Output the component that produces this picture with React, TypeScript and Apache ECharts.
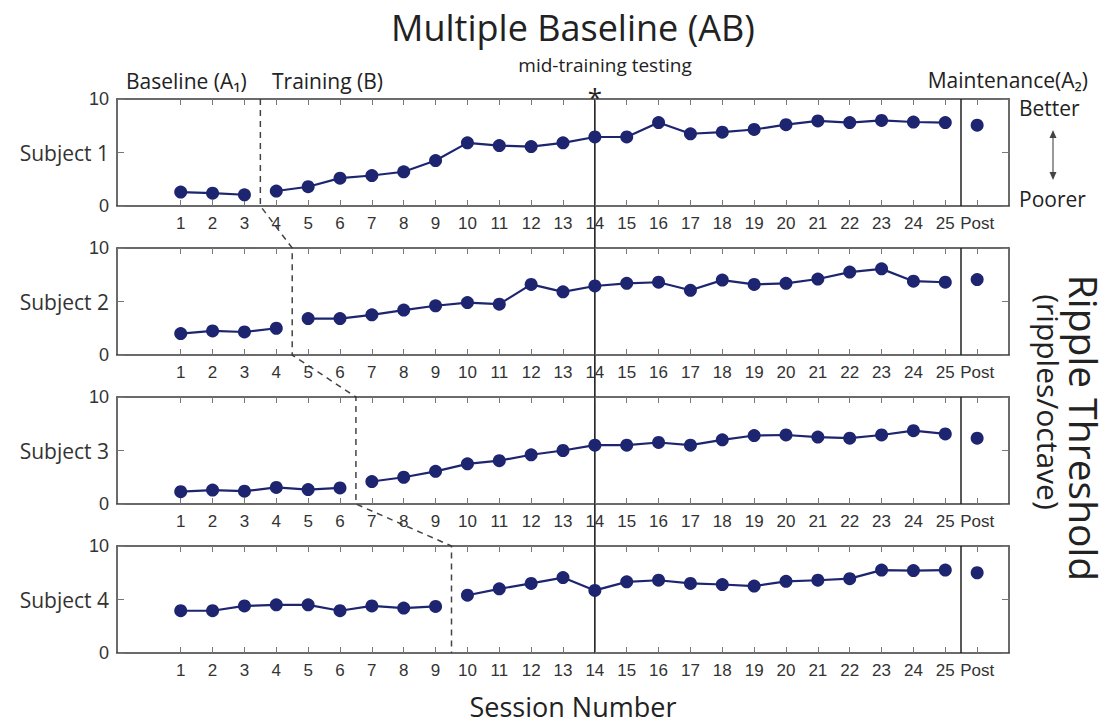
import React, { useEffect, useRef } from "react";
import * as echarts from "echarts";

// ---- data ----
const sessionTicks = [1, 2, 3, 4, 5, 6, 7, 8, 9, 10, 11, 12, 13, 14, 15, 16, 17, 18, 19, 20, 21, 22, 23, 24, 25, 26];
const postPosition = 26;
const subjectNames = ["Subject 1", "Subject 2", "Subject 3", "Subject 4"];
const subject1 = [1.3, 1.2, 1.05, 1.4, 1.8, 2.6, 2.85, 3.2, 4.25, 5.9, 5.65, 5.55, 5.9, 6.45, 6.45, 7.8, 6.75, 6.9, 7.15, 7.6, 7.95, 7.8, 8.0, 7.85, 7.8];
const subject2 = [2.0, 2.25, 2.15, 2.5, 3.4, 3.4, 3.75, 4.2, 4.6, 4.9, 4.75, 6.6, 5.9, 6.45, 6.7, 6.8, 6.05, 7.0, 6.6, 6.7, 7.1, 7.75, 8.05, 6.9, 6.8];
const subject3 = [1.15, 1.3, 1.2, 1.55, 1.35, 1.5, 2.1, 2.5, 3.05, 3.75, 4.05, 4.6, 5.0, 5.5, 5.5, 5.75, 5.5, 6.0, 6.4, 6.45, 6.25, 6.15, 6.45, 6.85, 6.55];
const subject4 = [3.95, 3.95, 4.4, 4.5, 4.5, 3.95, 4.4, 4.2, 4.35, 5.4, 6.0, 6.5, 7.05, 5.85, 6.65, 6.8, 6.5, 6.4, 6.25, 6.7, 6.8, 6.95, 7.75, 7.7, 7.75];
const postValues = [7.55, 7.05, 6.15, 7.5];
const baselineEnd = [3, 4, 6, 9];
const midTrainingSession = 14;
const yTicks = [0, 5, 10];

const subjects = [subject1, subject2, subject3, subject4];

const NAVY = "#1d2570";
const AXIS = "#3a3a3a";
const SANS = "'Open Sans', 'Noto Sans', sans-serif";
const HELV = "'Liberation Sans', Arial, sans-serif";

const gridTops = [99, 248, 397, 546];
const gridH = 107;

export default function App() {
  const ref = useRef<HTMLDivElement>(null);
  useEffect(() => {
    document.body.style.margin = "0";
    const chart = echarts.init(ref.current!, null, { renderer: "svg" });

    const grids: any[] = [];
    const xAxes: any[] = [];
    const yAxes: any[] = [];
    const series: any[] = [];

    subjects.forEach((vals, i) => {
      grids.push({ left: 117, right: 100, top: gridTops[i], height: gridH });
      const xBase = {
        type: "value",
        gridIndex: i,
        min: -1,
        max: 27,
        splitLine: { show: false },
        axisLine: { show: true, onZero: false, lineStyle: { color: AXIS, width: 1.5 } },
        axisTick: { show: true, inside: true, length: 6, customValues: sessionTicks, lineStyle: { color: "#777", width: 1 } },
      };
      xAxes.push({
        ...xBase,
        position: "bottom",
        axisLabel: {
          show: true,
          customValues: sessionTicks,
          formatter: (v: number) => (v === postPosition ? "Post" : String(v)),
          fontFamily: HELV,
          fontSize: 17,
          color: "#333",
          margin: 9,
        },
      });
      xAxes.push({ ...xBase, position: "top", axisLabel: { show: false } });
      const yBase = {
        type: "value",
        gridIndex: i,
        min: 0,
        max: 10,
        interval: 5,
        splitLine: { show: false },
        axisLine: { show: true, onZero: false, lineStyle: { color: AXIS, width: 1.5 } },
        axisTick: { show: true, inside: true, length: 7, lineStyle: { color: "#777", width: 1 } },
      };
      yAxes.push({
        ...yBase,
        position: "left",
        axisLabel: {
          show: true,
          customValues: yTicks,
          formatter: (v: number) => (v === 5 ? `{s|${subjectNames[i]}}` : String(v)),
          fontFamily: HELV,
          fontSize: 18,
          color: "#333",
          margin: 8,
          rich: { s: { fontFamily: SANS, fontSize: 21, color: "#333" } },
        },
      });
      yAxes.push({ ...yBase, position: "right", axisLabel: { show: false } });

      const b = baselineEnd[i];
      const common = {
        type: "line",
        xAxisIndex: 2 * i,
        yAxisIndex: 2 * i,
        symbol: "circle",
        symbolSize: 13,
        itemStyle: { color: NAVY, opacity: 1 },
        lineStyle: { color: NAVY, width: 2.2 },
        silent: true,
      };
      series.push({
        ...common,
        data: vals.slice(0, b).map((v, k) => [k + 1, v]),
        markLine: {
          silent: true,
          symbol: "none",
          label: { show: false },
          lineStyle: { color: "#222", width: 1.5, type: "solid" },
          data: [{ xAxis: 25.5 }],
        },
      });
      series.push({ ...common, data: vals.slice(b).map((v, k) => [b + k + 1, v]) });
      series.push({
        type: "scatter",
        xAxisIndex: 2 * i,
        yAxisIndex: 2 * i,
        symbolSize: 13,
        itemStyle: { color: NAVY, opacity: 1 },
        data: [[postPosition, postValues[i]]],
        silent: true,
      });
    });

    chart.setOption({
      animation: false,
      grid: grids,
      xAxis: xAxes,
      yAxis: yAxes,
      series,
    });

    const px = (g: number, x: number, y: number) =>
      chart.convertToPixel({ xAxisIndex: 2 * g, yAxisIndex: 2 * g }, [x, y]) as number[];

    const phasePts: number[][] = [];
    baselineEnd.forEach((b, g) => {
      phasePts.push(px(g, b + 0.5, 10));
      phasePts.push(px(g, b + 0.5, 0));
    });
    const midTop = px(0, midTrainingSession, 10);
    const midBot = px(3, midTrainingSession, 0);

    const txt = (text: string, x: number, y: number, size: number, align = "left", extra: any = {}, rotation = 0) => ({
      type: "text",
      x,
      y,
      rotation,
      silent: true,
      style: { text, fontSize: size, fontFamily: SANS, fill: "#222", align, verticalAlign: "middle", ...extra },
    });

    chart.setOption({
      graphic: [
        {
          type: "polyline",
          silent: true,
          shape: { points: phasePts },
          style: { stroke: "#444", lineWidth: 1.5, lineDash: [6, 5], fill: null },
        },
        {
          type: "line",
          silent: true,
          shape: { x1: midTop[0], y1: midTop[1], x2: midBot[0], y2: midBot[1] },
          style: { stroke: "#111", lineWidth: 1.5 },
        },
        txt("*", midTop[0], 97, 26, "center"),
        txt("Multiple Baseline (AB)", 573, 27, 36, "center"),
        txt("Baseline (A\u2081)", 126, 81, 21),
        txt("Training (B)", 272, 81, 21),
        txt("mid-training testing", 605, 65, 19, "center"),
        txt("Maintenance(A\u2082)", 1088, 80, 21, "right"),
        txt("Better", 1019, 108, 21),
        txt("Poorer", 1019, 199, 21),
        txt("Session Number", 573, 706, 27, "center"),
        txt("Ripple Threshold", 1084, 428, 39, "center", {}, -Math.PI / 2),
        txt("(ripples/octave)", 1048, 402, 30, "center", {}, -Math.PI / 2),
        {
          type: "line",
          silent: true,
          shape: { x1: 1053, y1: 136, x2: 1053, y2: 174 },
          style: { stroke: "#555", lineWidth: 1.2 },
        },
        {
          type: "polygon",
          silent: true,
          shape: { points: [[1053, 130], [1049.5, 138], [1056.5, 138]] },
          style: { fill: "#444" },
        },
        {
          type: "polygon",
          silent: true,
          shape: { points: [[1053, 180], [1049.5, 172], [1056.5, 172]] },
          style: { fill: "#444" },
        },
      ],
    });

    return () => chart.dispose();
  }, []);
  return <div ref={ref} style={{ width: 1109, height: 725 }} />;
}
